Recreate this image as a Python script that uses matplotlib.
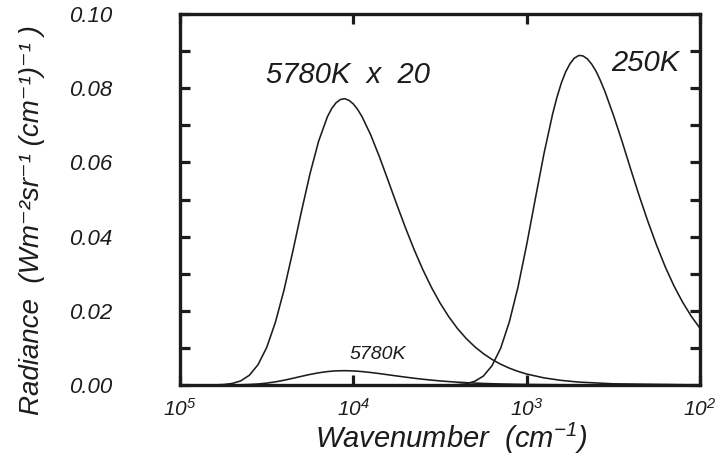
import numpy as np
import matplotlib
matplotlib.use("Agg")
import matplotlib.pyplot as plt
from matplotlib.ticker import MultipleLocator, FixedLocator, NullLocator, FixedFormatter

# 250 K blackbody radiance
EARTH_WAVENUMBER = [100, 112.2, 125.9, 141.3, 158.5, 177.8, 199.5, 223.9, 251.2,
                    281.8, 316.2, 354.8, 375.8, 398.1, 421.7, 446.7, 473.2, 490,
                    501.2, 530.9, 562.3, 595.7, 631.0, 668.3, 707.9, 794.3, 891.3,
                    1000, 1122, 1259, 1413, 1585, 1778, 1995, 2239, 2512, 2818]
EARTH_250K = [0.0153, 0.0185, 0.0223, 0.0267, 0.0318, 0.0376, 0.0440, 0.0509, 0.0582,
              0.0657, 0.0728, 0.0793, 0.0821, 0.0846, 0.0865, 0.0879, 0.0887, 0.0888,
              0.0888, 0.0881, 0.0866, 0.0844, 0.0814, 0.0776, 0.0731, 0.0624, 0.0502,
              0.0378, 0.0264, 0.0170, 0.0099, 0.0052, 0.0024, 0.0010, 0.0003, 0.0001, 0.0]

# 5780 K (sun) curve, also drawn scaled by 20
SUN_WAVENUMBER = [100, 316.2, 501.2, 631.0, 794.3, 1000, 1122, 1259, 1413, 1585, 1778,
                  1995, 2239, 2512, 2818, 3162, 3548, 3981, 4467, 5012, 5623, 6310,
                  7079, 7943, 8913, 9441, 10000, 10593, 11220, 11885, 12589, 13335,
                  14125, 15849, 17783, 19953, 22387, 25119, 28184, 31623, 35481,
                  39811, 44668, 50119, 56234, 63096, 100000]
SUN_X20 = [0.00003, 0.00032, 0.00079, 0.00124, 0.00192, 0.00296, 0.00367, 0.00454,
           0.00560, 0.00689, 0.00846, 0.01034, 0.01259, 0.01527, 0.01844, 0.02212,
           0.02637, 0.03119, 0.03658, 0.04247, 0.04874, 0.05520, 0.06157, 0.06744,
           0.07234, 0.07426, 0.07575, 0.07673, 0.07718, 0.07694, 0.07606, 0.07451,
           0.07226, 0.06575, 0.05696, 0.04664, 0.03584, 0.02559, 0.01684, 0.01010,
           0.00546, 0.00262, 0.00110, 0.00040, 0.00012, 0.00003, 0.0]
SUN_5780K = [0.000002, 0.000016, 0.00004, 0.000062, 0.000096, 0.000148, 0.000184,
             0.000227, 0.00028, 0.000345, 0.000423, 0.000517, 0.00063, 0.000764,
             0.000922, 0.001106, 0.001319, 0.00156, 0.001829, 0.002124, 0.002437,
             0.00276, 0.003079, 0.003372, 0.003617, 0.003713, 0.003788, 0.003837,
             0.003859, 0.003847, 0.003803, 0.003726, 0.003613, 0.003288, 0.002848,
             0.002332, 0.001792, 0.00128, 0.000842, 0.000505, 0.000273, 0.000131,
             0.000055, 0.00002, 0.000006, 0.0000015, 0.0]

X_TICKS = [1e5, 1e4, 1e3, 1e2]
X_TICK_LABELS = ["$10^{5}$", "$10^{4}$", "$10^{3}$", "$10^{2}$"]

INK = "#1c1c1c"

plt.rcParams["font.family"] = ["Liberation Sans", "DejaVu Sans"]
plt.rcParams["font.style"] = "italic"
plt.rcParams["mathtext.fontset"] = "custom"
plt.rcParams["mathtext.rm"] = "Liberation Sans:italic"
plt.rcParams["mathtext.it"] = "Liberation Sans:italic"
plt.rcParams["mathtext.default"] = "rm"

fig = plt.figure(figsize=(7.21, 4.58), dpi=100)
ax = fig.add_axes([180 / 721, 1 - 385 / 458, 520 / 721, 371 / 458])

for x, y in [(SUN_WAVENUMBER, SUN_X20), (SUN_WAVENUMBER, SUN_5780K),
             (EARTH_WAVENUMBER, EARTH_250K)]:
    ax.plot(x, y, color=INK, lw=1.15, solid_capstyle="round")

ax.set_xscale("log")
ax.set_xlim(1e5, 1e2)
ax.set_ylim(0, 0.10)

for s in ax.spines.values():
    s.set_linewidth(2.4)
    s.set_color(INK)

ax.xaxis.set_major_locator(FixedLocator(X_TICKS))
ax.xaxis.set_major_formatter(FixedFormatter(X_TICK_LABELS))
ax.xaxis.set_minor_locator(NullLocator())
ax.yaxis.set_major_locator(MultipleLocator(0.02))
ax.yaxis.set_minor_locator(MultipleLocator(0.01))
ax.yaxis.set_major_formatter(matplotlib.ticker.FormatStrFormatter("%.2f"))

ax.tick_params(axis="y", which="both", direction="in", left=True, right=True,
               length=7.5, width=2.3, color=INK, pad=49, labelsize=16,
               labelcolor=INK)
ax.tick_params(axis="x", which="major", direction="in", top=True, bottom=True,
               length=7.5, width=2.3, color=INK, pad=9, labelsize=15,
               labelcolor=INK)

fig.text(32 / 721, 1 - 220 / 458,
         "Radiance  (Wm\u207b\u00b2sr\u207b\u00b9 (cm\u207b\u00b9)\u207b\u00b9 )",
         rotation=90, ha="center", va="center", fontsize=20, color=INK)
fig.text(451 / 721, 1 - 438 / 458, "Wavenumber  (cm$^{-1}$)",
         ha="center", va="center", fontsize=21, color=INK)

ax.text(10740, 0.0814, "5780K  x  20", ha="center", va="baseline",
        fontsize=21, color=INK)
ax.text(207.5, 0.0847, "250K", ha="center", va="baseline", fontsize=21, color=INK)
ax.text(7244, 0.0069, "5780K", ha="center", va="baseline", fontsize=14, color=INK)

fig.savefig("out.png", dpi=100)
